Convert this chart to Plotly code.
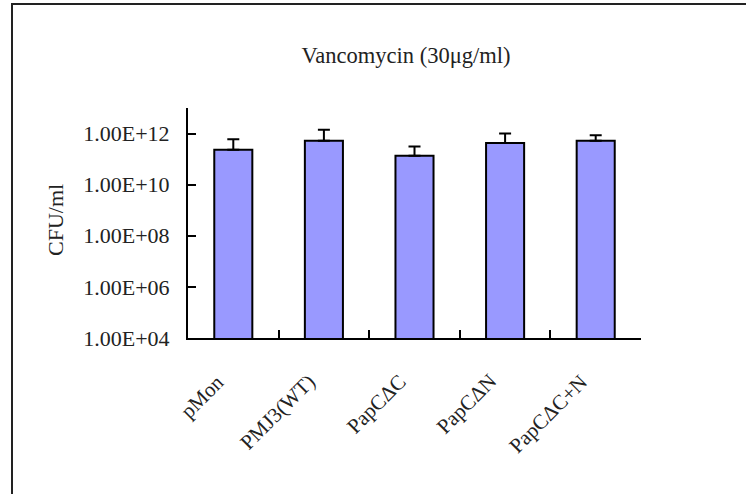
import plotly.graph_objects as go

categories = ["pMon", "PMJ3(WT)", "PapCΔC", "PapCΔN", "PapCΔC+N"]
cfu_values = [2.3e11, 5.2e11, 1.35e11, 4.3e11, 5.2e11]
cfu_errors = [3.7e11, 8.8e11, 1.75e11, 5.7e11, 3.4e11]
tick_vals = [1e4, 1e6, 1e8, 1e10, 1e12]
tick_text = ["1.00E+04", "1.00E+06", "1.00E+08", "1.00E+10", "1.00E+12"]
title_text = "Vancomycin (30μg/ml)"
y_title = "CFU/ml"

FONT = "Liberation Serif"
TXT = "#222222"

fig = go.Figure()
fig.add_trace(go.Bar(
    x=categories,
    y=cfu_values,
    width=0.42,
    marker=dict(color="#9999FF", line=dict(color="black", width=2)),
    error_y=dict(type="data", symmetric=False, array=cfu_errors,
                 arrayminus=[0] * len(cfu_errors),
                 color="black", thickness=2, width=6),
    showlegend=False,
    hoverinfo="skip",
))

W, H = 746, 494
L, R, T, B = 188, 105, 108, 156
pw = W - L - R
ph = H - T - B

def px_x(p):
    return (p - L) / pw

def px_y(p):
    return (H - B - p) / ph

fig.update_layout(
    width=W, height=H,
    margin=dict(l=L, r=R, t=T, b=B, pad=0),
    paper_bgcolor="white",
    plot_bgcolor="white",
    font=dict(family=FONT, size=22, color=TXT),
    title=dict(text=title_text, x=406 / W, xanchor="center",
               y=1 - 55 / H, yanchor="middle",
               font=dict(family=FONT, size=22.5, color=TXT)),
    xaxis=dict(
        type="category",
        range=[-0.5, len(categories) - 0.5],
        showline=True, linecolor="black", linewidth=2,
        ticks="inside", ticklen=8, tickwidth=2, tickcolor="black",
        tickson="boundaries",
        showticklabels=False,
        showgrid=False, zeroline=False,
    ),
    yaxis=dict(
        type="log",
        range=[4, 13],
        tickvals=tick_vals,
        ticktext=tick_text,
        showline=True, linecolor="black", linewidth=2,
        ticks="inside", ticklen=8, tickwidth=2, tickcolor="black",
        ticklabelstandoff=12,
        showgrid=False, zeroline=False,
        tickfont=dict(family=FONT, size=22, color=TXT),
    ),
)

# rotated category labels (Excel-style anchoring)
for cat in categories:
    fig.add_annotation(
        text=cat, textangle=-45,
        xref="x", yref="paper",
        x=cat, y=px_y(367), xshift=-1,
        xanchor="right", yanchor="top",
        showarrow=False,
        font=dict(family=FONT, size=21, color=TXT),
    )

fig.add_annotation(
    text=y_title, textangle=-90,
    xref="paper", yref="paper",
    x=px_x(55), y=px_y(220),
    xanchor="center", yanchor="middle",
    showarrow=False,
    font=dict(family=FONT, size=22, color=TXT),
)

fig.add_shape(
    type="rect", xref="paper", yref="paper",
    x0=px_x(12), x1=px_x(780), y0=px_y(540), y1=px_y(4),
    line=dict(color="#222222", width=2),
    fillcolor="rgba(0,0,0,0)",
    layer="below",
)

fig.write_html("out.html",
               config={"displayModeBar": False},
               post_script="document.body.style.margin='0';document.body.style.overflow='hidden';")
